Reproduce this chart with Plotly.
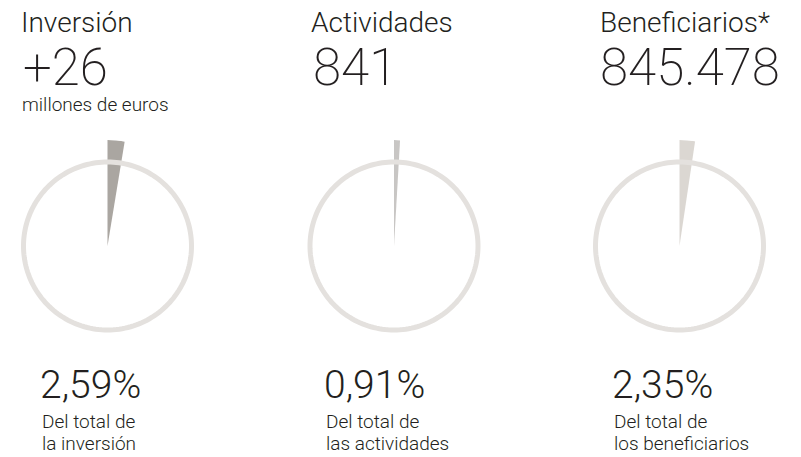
import plotly.graph_objects as go

# ---- data ----
titles = ["Inversión", "Actividades", "Beneficiarios*"]
big_values = ["+26", "841", "845.478"]
subtitles = ["millones de euros", "", ""]
percents = [2.59, 0.91, 2.35]
percent_labels = ["2,59%", "0,91%", "2,35%"]
desc_line1 = ["Del total de", "Del total de", "Del total de"]
desc_line2 = ["la inversión", "las actividades", "los beneficiarios"]

# ---- style / layout ----
W, H = 801, 457
centers_x = [107.5, 394, 679.5]
center_y = 246
half = 106          # px half-size of each polar domain
ring_r = 84
wedge_r = 106
wedge_colors = ["rgba(85,78,68,0.5)", "rgba(110,105,100,0.38)", "rgba(160,150,138,0.38)"]
ring_color = "#e4e1de"
text_color = "#231f20"
FONT = "Roboto"

title_x = [19, 309, 598]
big_x = [21, 311, 598]
pct_x = [38, 322, 610]

fig = go.Figure()

ring_theta = [i for i in range(0, 361, 2)]

for i in range(3):
    pid = "polar" if i == 0 else f"polar{i+1}"
    sub = "polar" if i == 0 else f"polar{i+1}"
    fig.add_trace(go.Scatterpolar(
        r=[ring_r] * len(ring_theta), theta=ring_theta, mode="lines",
        line=dict(color=ring_color, width=5), subplot=sub, hoverinfo="skip",
        showlegend=False))
    ang = percents[i] / 100 * 360
    fig.add_trace(go.Barpolar(
        r=[wedge_r], theta=[ang / 2], width=[ang], base=0,
        marker=dict(color=wedge_colors[i], line=dict(width=0)),
        subplot=sub, showlegend=False, hoverinfo="skip"))
    cx = centers_x[i]
    fig.update_layout({pid: dict(
        domain=dict(x=[(cx - half) / W, (cx + half) / W],
                    y=[(H - center_y - half) / H, (H - center_y + half) / H]),
        bgcolor="rgba(0,0,0,0)",
        radialaxis=dict(range=[0, wedge_r], visible=False, showgrid=False),
        angularaxis=dict(rotation=90, direction="clockwise", visible=False,
                         showgrid=False, showline=False, ticks=""),
        bargap=0,
    )})

def ann(text, x, yc, size, weight=300):
    fig.add_annotation(text=text, x=x / W, y=1 - yc / H, xref="paper", yref="paper",
                       xanchor="left", yanchor="middle", showarrow=False,
                       font=dict(family=FONT, size=size, color=text_color, weight=weight))

for i in range(3):
    ann(titles[i], title_x[i], 22.5, 28, 300)
    ann(big_values[i], big_x[i], 67, 51, 200)
    if subtitles[i]:
        ann(subtitles[i], title_x[i] + 1, 104, 19, 300)
    ann(percent_labels[i], pct_x[i], 385, 39, 300)
    ann(desc_line1[i], pct_x[i] + 2, 421.5, 19, 300)
    ann(desc_line2[i], pct_x[i] + 2, 443, 19, 300)

fig.update_layout(width=W, height=H, margin=dict(l=0, r=0, t=0, b=0),
                  paper_bgcolor="white", plot_bgcolor="white", showlegend=False)

fig.write_html("out.html", config={"displayModeBar": False},
               post_script="document.body.style.margin='0px';")
